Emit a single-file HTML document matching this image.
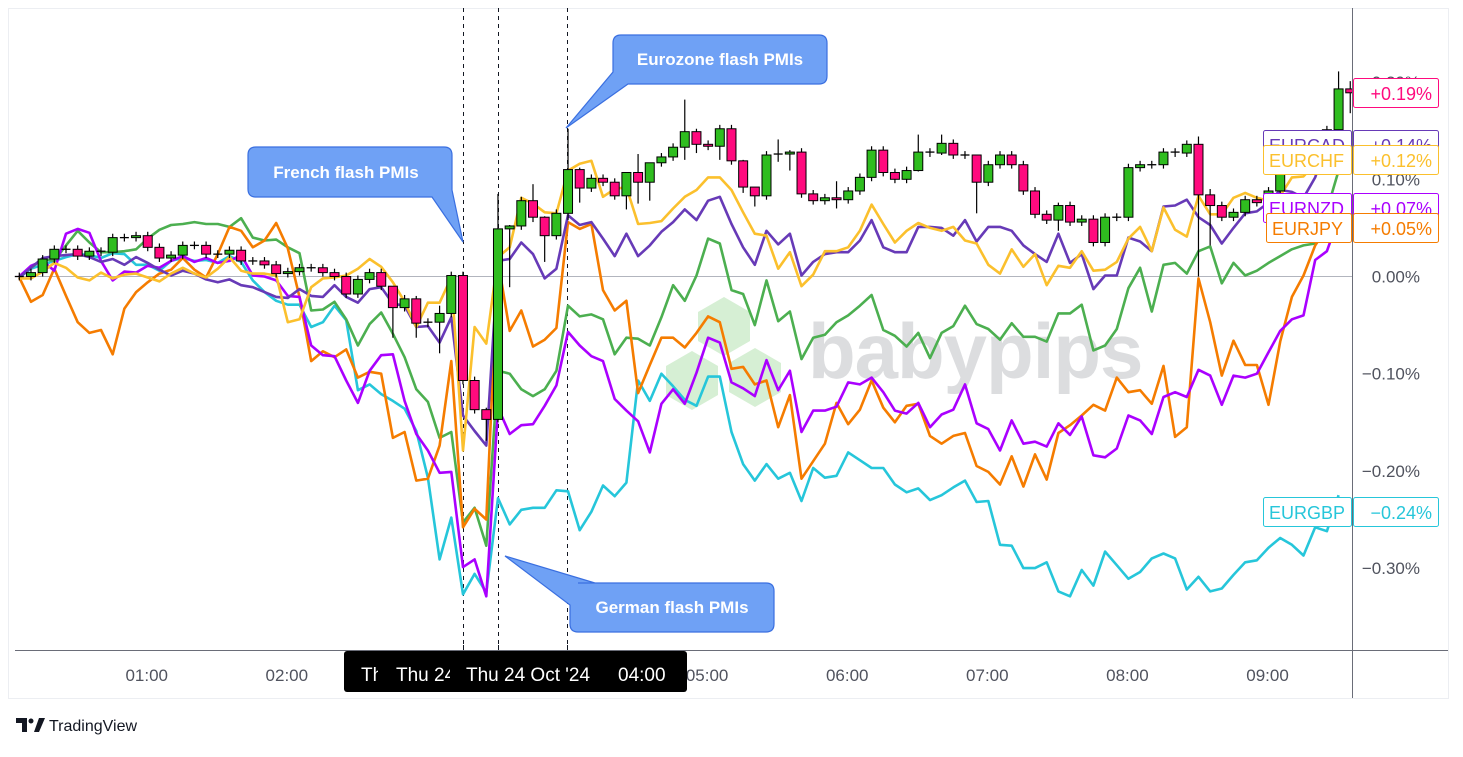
<!DOCTYPE html>
<html><head><meta charset="utf-8"><style>
html,body{margin:0;padding:0;background:#fff;}
body{width:1463px;height:752px;overflow:hidden;font-family:"Liberation Sans",sans-serif;}
svg text{font-family:"Liberation Sans",sans-serif;}
</style></head><body>
<svg id="chart" width="1463" height="752" viewBox="0 0 1463 752" xmlns="http://www.w3.org/2000/svg">
<rect x="8.5" y="8.5" width="1440" height="690" fill="#fff" stroke="#eceef2"/>
<g id="watermark">
<polygon points="724,297 750,312 750,341 724,356 698,341 698,312" fill="#d6efd4"/>
<polygon points="692,351 718,366 718,395 692,410 666,395 666,366" fill="#d6efd4"/>
<polygon points="755,348 781,363 781,392 755,407 729,392 729,363" fill="#d6efd4"/>
<text x="808" y="378" font-size="78" font-weight="bold" fill="#dcdddf" letter-spacing="-1">babypips</text>
</g>
<line x1="15" y1="276.5" x2="1352" y2="276.5" stroke="#b2b5be" stroke-width="1"/>
<g id="vlines"></g>
<g id="lines"></g>
<g id="candles"></g>
<line x1="15" y1="650.5" x2="1448" y2="650.5" stroke="#6a6d78" stroke-width="1"/>
<line x1="1352.5" y1="8" x2="1352.5" y2="698" stroke="#6a6d78" stroke-width="1"/>
<g id="yaxis"></g>
<g id="xaxis"></g>
<g id="callouts"></g>
<g id="labels"></g>
<g>
<path d="M16 718 H27 V732 H22 V723 H16 Z" fill="#131722"/>
<circle cx="31" cy="721" r="2.5" fill="#131722"/>
<path d="M34 732 L39 718 H45 L39 732 Z" fill="#131722"/>
<text x="49" y="731" font-size="16" fill="#131722">TradingView</text>
</g>
</svg>
<script>
// ---------- data (values in % change) ----------
const hourLabels = ["01:00","02:00","03:00","04:00","05:00","06:00","07:00","08:00","09:00"];
const yTicks = [0.2,0.1,0,-0.1,-0.2,-0.3];
const closes = [0,0.004,0.018,0.028,0.028,0.021,0.026,0.025,0.040,0.040,0.042,0.030,0.019,0.022,0.032,0.032,0.023,0.023,0.027,0.016,
0.016,0.012,0.003,0.005,0.009,0.009,0.004,0,-0.018,-0.003,0.004,-0.010,-0.032,-0.023,-0.048,-0.047,-0.038,0.001,-0.107,-0.137,
-0.147,0.049,0.052,0.078,0.061,0.042,0.065,0.110,0.091,0.101,0.097,0.083,0.107,0.097,0.117,0.123,0.133,0.149,0.136,0.134,
0.152,0.119,0.092,0.083,0.125,0.126,0.128,0.085,0.078,0.081,0.079,0.088,0.102,0.130,0.107,0.100,0.109,0.128,0.127,0.137,
0.125,0.125,0.097,0.115,0.125,0.115,0.088,0.064,0.058,0.073,0.056,0.059,0.035,0.061,0.061,0.112,0.115,0.115,0.128,0.127,
0.136,0.084,0.073,0.061,0.066,0.079,0.076,0.088,0.109,0.112,0.116,0.138,0.151,0.193,0.189];
const wickIdx  = [32,34,36,40,41,42,44,45,47,48,52,53,54,57,58,60,62,63,65,66,70,77,79,82,89,101,102,113,114];
const wickHigh = [-0.010,-0.020,-0.030,-0.135,0.085,0.053,0.095,0.062,0.152,0.112,0.107,0.126,0.117,0.182,0.152,0.156,0.120,0.090,0.141,0.130,0.098,0.146,0.146,0.125,0.076,0.144,0.090,0.211,0.201];
const wickLow  = [-0.063,-0.063,-0.079,-0.169,-0.150,-0.011,0.056,0.015,0.058,0.076,0.069,0.075,0.078,0.120,0.127,0.120,0.086,0.072,0.118,0.109,0.070,0.108,0.125,0.065,0.047,0.000,0.032,0.135,0.168];

const seriesNames  = ["EURGBP","EURAUD","EURJPY","EURNZD","EURCAD","EURCHF"];
const eurgbp = [-0.001,0.008,0.012,0.016,0.020,0.023,0.022,0.019,0.024,0.023,0.012,0.012,0.006,0.016,0.019,0.016,0.017,0.014,0.021,0.015,
-0.004,-0.016,-0.025,-0.029,-0.029,-0.052,-0.047,-0.030,-0.045,-0.117,-0.111,-0.121,-0.128,-0.136,-0.159,-0.207,-0.291,-0.248,-0.327,-0.306,
-0.325,-0.228,-0.255,-0.240,-0.238,-0.238,-0.220,-0.221,-0.261,-0.242,-0.215,-0.226,-0.212,-0.107,-0.128,-0.100,-0.113,-0.127,-0.133,-0.103,
-0.103,-0.160,-0.193,-0.210,-0.193,-0.208,-0.202,-0.231,-0.197,-0.207,-0.205,-0.181,-0.189,-0.197,-0.197,-0.214,-0.222,-0.218,-0.230,-0.225,
-0.217,-0.210,-0.232,-0.231,-0.276,-0.277,-0.300,-0.300,-0.294,-0.324,-0.329,-0.302,-0.318,-0.283,-0.297,-0.311,-0.304,-0.290,-0.285,-0.290,
-0.322,-0.309,-0.324,-0.321,-0.307,-0.294,-0.292,-0.279,-0.269,-0.276,-0.287,-0.258,-0.262,-0.225];
const euraud = [-0.001,0.009,0.018,0.016,0.032,0.047,0.035,0.025,0.025,0.026,0.028,0.039,0.048,0.053,0.054,0.056,0.054,0.054,0.051,0.060,
0.040,0.037,0.038,0.030,0.024,-0.035,-0.034,-0.026,-0.044,-0.071,-0.049,-0.037,-0.059,-0.083,-0.116,-0.129,-0.166,-0.160,-0.253,-0.238,
-0.277,-0.097,-0.100,-0.116,-0.123,-0.116,-0.097,-0.030,-0.041,-0.039,-0.044,-0.080,-0.063,-0.064,-0.071,-0.042,-0.009,-0.025,0.001,0.039,
0.034,-0.014,-0.018,-0.050,-0.004,-0.046,-0.036,-0.085,-0.063,-0.060,-0.047,-0.040,-0.030,-0.019,-0.055,-0.061,-0.072,-0.058,-0.084,-0.058,
-0.051,-0.030,-0.049,-0.054,-0.065,-0.048,-0.062,-0.062,-0.067,-0.038,-0.038,-0.029,-0.076,-0.071,-0.054,-0.012,0.009,-0.036,0.012,0.014,
0.003,0.026,0.031,-0.007,0.014,0.001,0.006,0.014,0.021,0.028,0.032,0.034,0.068,0.109];
const eurjpy = [-0.001,-0.026,-0.019,0.008,-0.020,-0.047,-0.058,-0.055,-0.080,-0.033,-0.016,-0.006,0.003,0.007,0.019,0.007,-0.001,0.023,0.051,0.047,
0.030,0.037,0.055,0.029,-0.021,-0.087,-0.077,-0.083,-0.075,-0.104,-0.098,-0.100,-0.166,-0.160,-0.210,-0.208,-0.174,-0.087,-0.258,-0.239,
-0.250,0.016,-0.056,-0.035,-0.072,-0.065,-0.053,0.056,0.049,0.054,-0.014,-0.035,-0.025,-0.120,-0.091,-0.063,-0.063,-0.073,-0.058,-0.041,
-0.047,-0.095,-0.093,-0.111,-0.107,-0.155,-0.122,-0.208,-0.190,-0.172,-0.130,-0.152,-0.137,-0.107,-0.135,-0.150,-0.133,-0.131,-0.164,-0.172,
-0.164,-0.161,-0.195,-0.201,-0.214,-0.185,-0.216,-0.183,-0.209,-0.161,-0.153,-0.143,-0.132,-0.138,-0.104,-0.119,-0.117,-0.131,-0.092,-0.165,
-0.155,-0.002,-0.047,-0.102,-0.066,-0.091,-0.091,-0.132,-0.067,-0.021,0.001,0.032,0.050,0.050];
const eurnzd = [0.000,0.011,0.016,0.006,0.044,0.049,0.045,0.016,-0.004,0.005,0.004,0.011,0.009,0.016,0.021,0.015,0.019,0.014,0.016,0.022,
0.001,0.000,-0.004,-0.020,-0.021,-0.071,-0.081,-0.082,-0.107,-0.130,-0.097,-0.081,-0.080,-0.128,-0.162,-0.179,-0.202,-0.201,-0.299,-0.291,
-0.329,-0.135,-0.162,-0.153,-0.152,-0.133,-0.112,-0.057,-0.071,-0.082,-0.087,-0.126,-0.138,-0.149,-0.181,-0.131,-0.116,-0.131,-0.099,-0.063,
-0.068,-0.109,-0.115,-0.123,-0.086,-0.117,-0.097,-0.160,-0.138,-0.138,-0.134,-0.109,-0.111,-0.104,-0.119,-0.138,-0.141,-0.130,-0.155,-0.142,
-0.137,-0.111,-0.151,-0.157,-0.179,-0.148,-0.172,-0.170,-0.175,-0.151,-0.163,-0.144,-0.184,-0.186,-0.177,-0.143,-0.148,-0.162,-0.124,-0.119,
-0.124,-0.096,-0.102,-0.132,-0.102,-0.104,-0.100,-0.078,-0.056,-0.044,-0.040,0.017,0.026,0.060];
const eurcad = [-0.001,0.009,0.019,0.021,0.022,0.023,0.020,0.015,0.018,0.012,0.020,0.014,0.007,0.001,0.006,0.003,-0.003,-0.006,-0.003,-0.009,
-0.011,-0.016,-0.021,-0.022,-0.013,-0.020,-0.021,-0.009,-0.021,-0.027,-0.013,-0.011,-0.028,-0.030,-0.052,-0.051,-0.068,-0.042,-0.143,-0.159,
-0.174,0.016,0.018,0.035,0.023,-0.002,0.008,0.063,0.053,0.056,0.039,0.021,0.044,0.021,0.032,0.046,0.056,0.069,0.058,0.078,
0.082,0.054,0.030,0.012,0.047,0.033,0.044,0.001,0.015,0.023,0.025,0.025,0.037,0.058,0.030,0.025,0.025,0.051,0.051,0.050,
0.042,0.058,0.036,0.051,0.051,0.047,0.032,0.023,0.015,0.044,0.014,0.023,-0.013,0.001,0.001,0.040,0.036,0.026,0.072,0.073,
0.079,0.061,0.053,0.034,0.050,0.065,0.067,0.076,0.089,0.087,0.081,0.102,0.138,0.145];
const eurchf = [-0.002,-0.002,0.005,0.014,0.009,-0.001,-0.004,0.004,-0.002,0.002,0.003,-0.001,-0.005,0.003,0.009,0.003,-0.001,0.008,0.020,0.006,
0.003,0.003,0.001,-0.047,-0.044,-0.011,-0.002,-0.001,0.001,0.008,0.018,0.010,-0.006,-0.026,-0.052,-0.027,-0.027,-0.001,-0.179,-0.052,
-0.069,0.020,0.030,0.081,0.075,0.066,0.065,0.109,0.116,0.119,0.082,0.090,0.092,0.054,0.055,0.057,0.070,0.082,0.089,0.102,
0.102,0.089,0.066,0.044,0.042,0.008,0.025,-0.010,0.002,0.026,0.026,0.030,0.047,0.074,0.054,0.035,0.047,0.055,0.050,0.047,
0.051,0.037,0.034,0.012,0.003,0.028,0.010,0.023,-0.009,0.011,0.009,0.026,0.006,0.007,0.015,0.039,0.051,0.026,0.071,0.048,
0.041,0.083,0.064,0.064,0.081,0.086,0.081,0.078,0.083,0.102,0.103,0.116,0.131,0.120];
const eventIdx = [38, 41, 47];

// ---------- scales ----------
function xScale(i){ return 19.3 + i * 11.675; }
function yScale(v){ return 276.5 - v * 972; }
function hourIndex(h){ return 12 * h - 1; }
const NS = "http://www.w3.org/2000/svg";
function mk(tag, attrs, parent){ const e = document.createElementNS(NS, tag); for (const k in attrs) e.setAttribute(k, attrs[k]); parent.appendChild(e); return e; }

// dashed event lines
const vg = document.getElementById('vlines');
eventIdx.forEach(function(i){
  const x = Math.round(xScale(i)) + 0.5 + (i===47?-1:0);
  const l = mk('line', {x1:x, y1:8, x2:x, y2:650, stroke:'#131722', 'stroke-width':1, 'stroke-dasharray':'4,4'}, vg);
  
  
  const t = mk('line', {x1:x, y1:645, x2:x, y2:650, stroke:'#131722', 'stroke-width':1}, vg);
  
  
});

// lines
const lg = document.getElementById('lines');
const seriesData = [eurgbp, euraud, eurjpy, eurnzd, eurcad, eurchf];
const seriesColors = ['#26c6da','#4caf50','#f57c00','#aa00ff','#673ab7','#fbc02d'];
seriesData.forEach(function(arr, s){
  let d = '';
  arr.forEach(function(v, i){ d += (i ? 'L' : 'M') + xScale(i).toFixed(1) + ' ' + yScale(v).toFixed(1) + ' '; });
  const p = mk('path', {d:d, fill:'none', stroke:seriesColors[s], 'stroke-width':2.6, 'stroke-linejoin':'round'}, lg);
  
  
});

// candles
const cg = document.getElementById('candles');
closes.forEach(function(c, i){
  const o = i ? closes[i-1] : 0;
  const k = wickIdx.indexOf(i);
  const hi = k >= 0 ? wickHigh[k] : Math.max(o, c) + 0.004;
  const lo = k >= 0 ? wickLow[k] : Math.min(o, c) - 0.004;
  const x = xScale(i);
  const g = mk('g', {}, cg);
  
  
  mk('line', {x1:x, y1:yScale(hi), x2:x, y2:yScale(lo), stroke:'#000', 'stroke-width':1.2}, g);
  const top = yScale(Math.max(o, c)), bot = yScale(Math.min(o, c));
  if (bot - top < 1.5) {
    mk('line', {x1:x-4.5, y1:top, x2:x+4.5, y2:top, stroke:'#000', 'stroke-width':1.3}, g);
  } else {
    mk('rect', {x:x-4.5, y:top, width:9, height:bot-top, fill: c >= o ? '#2fbd1f' : '#ff0a7e', stroke:'#000', 'stroke-width':1}, g);
  }
});

// y axis
const ya = document.getElementById('yaxis');
yTicks.forEach(function(v){
  const t = mk('text', {x:1420, y:yScale(v)+6, 'font-size':17, fill:'#50535e', 'text-anchor':'end'}, ya);
  t.textContent = (v < 0 ? '\u2212' : '') + Math.abs(v).toFixed(2) + '%';
  
  
});

// x axis
const xa = document.getElementById('xaxis');
hourLabels.forEach(function(lbl, k){
  if (lbl === '03:00' || lbl === '04:00') return;
  const t = mk('text', {x:xScale(hourIndex(k+1)) - 1, y:681, 'font-size':17, fill:'#50535e', 'text-anchor':'middle'}, xa);
  t.textContent = lbl;
  
  
});
const box = mk('g', {}, xa);


mk('rect', {x:344, y:651, width:343, height:41, rx:3, fill:'#000'}, box);
const defs = mk('defs', {}, box);
const cp1 = mk('clipPath', {id:'clipA'}, defs); mk('rect', {x:344, y:651, width:34, height:41}, cp1);
const cp2 = mk('clipPath', {id:'clipB'}, defs); mk('rect', {x:390, y:651, width:60, height:41}, cp2);
const tA = mk('text', {x:361, y:681, 'font-size':19, fill:'#fff', 'clip-path':'url(#clipA)'}, box); tA.textContent = 'Thu 24 Oct \'24';
const tB = mk('text', {x:396, y:681, 'font-size':19, fill:'#fff', 'clip-path':'url(#clipB)'}, box); tB.textContent = 'Thu 24 Oct \'24';
const tC = mk('text', {x:466, y:681, 'font-size':19, fill:'#fff'}, box); tC.textContent = 'Thu 24 Oct \'24';
const tD = mk('text', {x:618, y:681, 'font-size':19, fill:'#fff'}, box); tD.textContent = '04:00';

// callouts
const cg2 = document.getElementById('callouts');
const callouts = [
  {name:'french-pmi-callout', text:'French flash PMIs', d:'M256 147 H444 Q452 147 452 155 V190 L463 242 L432 197 H256 Q248 197 248 189 V155 Q248 147 256 147 Z', tx:346, ty:178},
  {name:'eurozone-pmi-callout', text:'Eurozone flash PMIs', d:'M621 35 H819 Q827 35 827 43 V76 Q827 84 819 84 H628 L566 128 L613 72 V43 Q613 35 621 35 Z', tx:720, ty:65},
  {name:'german-pmi-callout', text:'German flash PMIs', d:'M578 583 H766 Q774 583 774 591 V624 Q774 632 766 632 H578 Q570 632 570 624 V605 L505 556 L595 583 Z', tx:672, ty:613}
];
callouts.forEach(function(c){
  const g = mk('g', {}, cg2);
  
  
  mk('path', {d:c.d, fill:'#6fa1f5', stroke:'#3a6fe0', 'stroke-width':1.2}, g);
  const t = mk('text', {x:c.tx, y:c.ty, 'font-size':17, 'font-weight':'bold', fill:'#fff', 'text-anchor':'middle'}, g);
  t.textContent = c.text;
});

// right-side labels
const lb = document.getElementById('labels');
const labelNames = ['EURUSD','EURCAD','EURCHF','EURNZD','EURJPY','EURGBP'];
const labelValues = [0.19, 0.14, 0.12, 0.07, 0.05, -0.24];
const labelColors = ['#ff0a7e','#673ab7','#fbc02d','#aa00ff','#f57c00','#26c6da'];
const labelY = [78, 130, 145, 193, 213, 497];
labelNames.forEach(function(n, k){
  const g = mk('g', {}, lb);
  
  
  const y = labelY[k], col = labelColors[k];
  if (k > 0) {
    const lx = (n === 'EURJPY') ? 1266 : 1263;
    mk('rect', {x:lx+0.5, y:y+0.5, width:1352-lx-1, height:29, rx:2, fill:'#fff', stroke:col}, g);
    const t = mk('text', {x:lx+6, y:y+22, 'font-size':18, fill:col}, g); t.textContent = n;
  }
  mk('rect', {x:1353.5, y:y+0.5, width:85, height:29, rx:2, fill:'#fff', stroke:col}, g);
  const v = labelValues[k];
  const t2 = mk('text', {x:1432, y:y+22, 'font-size':18, fill:col, 'text-anchor':'end'}, g);
  t2.textContent = (v < 0 ? '\u2212' : '+') + Math.abs(v).toFixed(2) + '%';
});
</script>
</body></html>
